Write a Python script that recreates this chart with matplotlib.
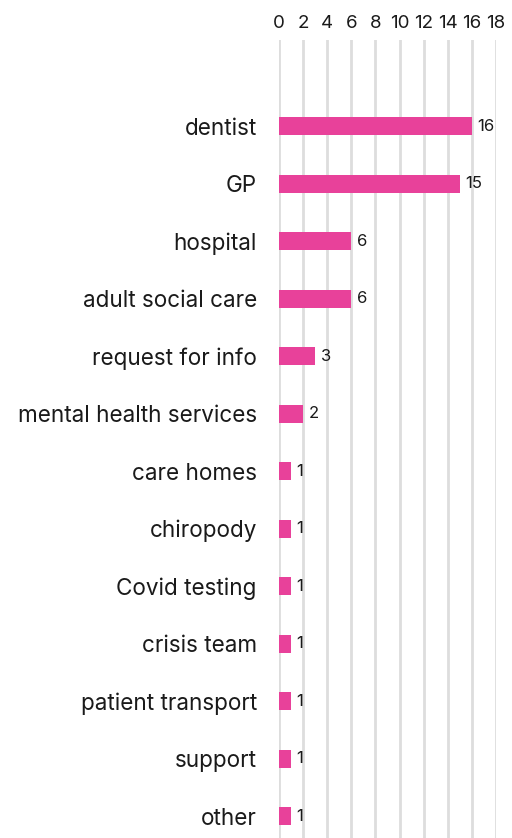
import matplotlib
matplotlib.use("Agg")
import matplotlib.pyplot as plt

categories = ["dentist", "GP", "hospital", "adult social care", "request for info",
              "mental health services", "care homes", "chiropody", "Covid testing",
              "crisis team", "patient transport", "support", "other"]
values = [16, 15, 6, 6, 3, 2, 1, 1, 1, 1, 1, 1, 1]
x_ticks = [0, 2, 4, 6, 8, 10, 12, 14, 16, 18]

plt.rcParams["font.family"] = ["Inter", "DejaVu Sans"]

fig = plt.figure(figsize=(5.12, 8.38), dpi=100)
ax = fig.add_axes([279 / 512, 0, (496 - 279) / 512, 1 - 40 / 838])

pos = list(range(len(categories)))
bars = ax.barh(pos, values, height=0.31, color="#E8419A", zorder=3)
for p, v in zip(pos, values):
    ax.text(v + 0.45, p, str(v), va="center", ha="left", fontsize=12, color="#1a1a1a")

ax.set_xlim(0, 18)
ax.set_ylim(12.38, -1.5)
ax.set_xticks(x_ticks)
ax.xaxis.tick_top()
ax.tick_params(axis="x", length=0, pad=6, labelsize=13.5, colors="#1a1a1a")
ax.set_yticks(pos)
ax.set_yticklabels(categories)
ax.tick_params(axis="y", length=0, pad=16, labelsize=16.2, colors="#1a1a1a")
ax.grid(axis="x", color="#dddddd", linewidth=2, zorder=0)
for s in ax.spines.values():
    s.set_visible(False)

fig.savefig("out.png", dpi=100)
